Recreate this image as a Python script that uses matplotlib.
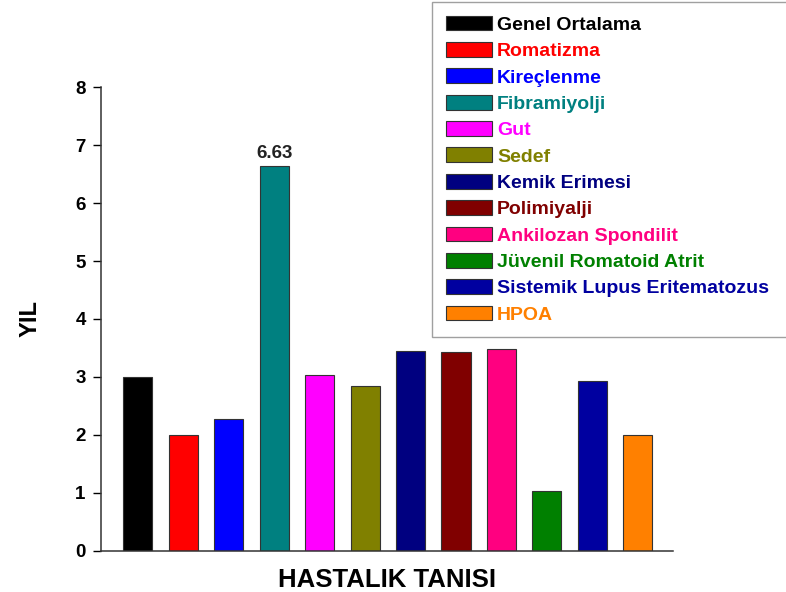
import matplotlib.pyplot as plt

plt.rcParams['font.family'] = ['Liberation Sans', 'DejaVu Sans']
plt.rcParams['font.weight'] = 'bold'

# Disease names (legend) and mean years
diseases = ['Genel Ortalama', 'Romatizma', 'Kireçlenme', 'Fibramiyolji', 'Gut', 'Sedef',
            'Kemik Erimesi', 'Polimiyalji', 'Ankilozan Spondilit',
            'Jüvenil Romatoid Atrit', 'Sistemik Lupus Eritematozus', 'HPOA']
years = [3.0, 2.0, 2.28, 6.63, 3.03, 2.84, 3.45, 3.43, 3.48, 1.03, 2.93, 2.0]
colors = ['#000000', '#ff0000', '#0000ff', '#008080', '#ff00ff', '#808000',
          '#000080', '#800000', '#ff0080', '#008000', '#0000a0', '#ff8000']
yticks = [0, 1, 2, 3, 4, 5, 6, 7, 8]

fig = plt.figure(figsize=(7.86, 5.92), dpi=100)
ax = fig.add_axes([0.1285, 0.0693, 0.7275, 0.7837])

x = range(len(years))
bars = ax.bar(x, years, width=0.64, color=colors, edgecolor='#333333', linewidth=0.8,
              label=diseases)

# value label on the tallest bar
imax = years.index(max(years))
ax.text(imax, years[imax] + 0.08, f'{years[imax]:.2f}', ha='center', va='bottom',
        fontsize=13.5, fontweight='bold', color='#222222')

ax.set_xlim(-0.81, 11.77)
ax.set_ylim(0, 8)
ax.set_yticks(yticks)
ax.set_xticks([])
ax.tick_params(axis='y', direction='out', length=6, width=1, labelsize=13.5, pad=5)
for lab in ax.get_yticklabels():
    lab.set_fontweight('bold')
for s in ['top', 'right']:
    ax.spines[s].set_visible(False)
for s in ['left', 'bottom']:
    ax.spines[s].set_linewidth(1.1)
    ax.spines[s].set_color('#333333')

ax.set_ylabel('YIL', fontsize=17, fontweight='bold', labelpad=24)
ax.set_xlabel('HASTALIK TANISI', fontsize=18.5, fontweight='bold', labelpad=12)

handles = [plt.Rectangle((0, 0), 1, 1, facecolor=c, edgecolor='#333333', linewidth=0.8)
           for c in colors]
leg = fig.legend(handles, diseases, loc='upper left', mode='expand',
                 bbox_to_anchor=(0.5496, 0.4, 0.46, 0.5966),
                 frameon=True, fancybox=False, edgecolor='#888888',
                 prop={'size': 14, 'weight': 'bold'}, handlelength=2.4,
                 handleheight=0.8, handletextpad=0.25, labelspacing=0.42,
                 borderpad=0.7, borderaxespad=0)
for txt, c in zip(leg.get_texts(), colors):
    txt.set_color(c)

fig.savefig('out.png', dpi=100)
